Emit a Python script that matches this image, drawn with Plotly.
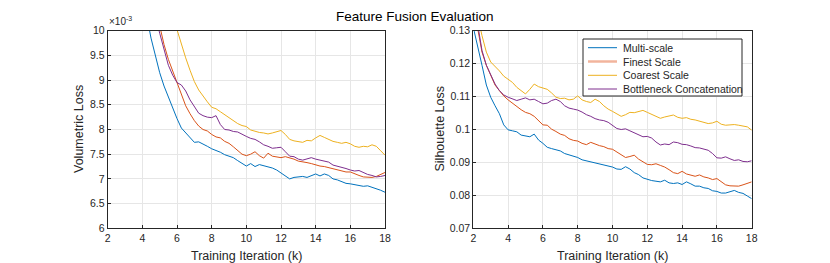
import plotly.graph_objects as go

# Training iteration (k), step 0.25 from 2 to 18
iters = [2 + 0.25 * i for i in range(65)]

# Volumetric loss (x 10^-3)
vol_multi = [14.0, 13.5, 13.0, 12.6, 12.2, 11.8, 11.4, 11.0, 10.65, 10.3, 9.85, 9.52, 9.15, 8.88, 8.65, 8.42,
             8.22, 8.03, 7.93, 7.82, 7.74, 7.75, 7.71, 7.66, 7.61, 7.58, 7.54, 7.49, 7.46, 7.43, 7.37, 7.31,
             7.26, 7.31, 7.25, 7.29, 7.27, 7.24, 7.22, 7.18, 7.12, 7.06, 7.00, 7.03, 7.04, 7.05, 7.03, 7.06,
             7.10, 7.06, 7.10, 7.07, 7.00, 6.98, 6.95, 6.91, 6.90, 6.88, 6.86, 6.85, 6.86, 6.83, 6.81, 6.77, 6.73]
vol_finest = [16.0, 15.4, 14.8, 14.2, 13.6, 13.1, 12.6, 12.1, 11.6, 11.2, 10.8, 10.4, 10.1, 9.72, 9.42, 9.18,
              8.95, 8.72, 8.48, 8.32, 8.18, 8.07, 8.00, 7.97, 7.90, 7.85, 7.83, 7.76, 7.72, 7.65, 7.58, 7.50,
              7.47, 7.50, 7.55, 7.47, 7.42, 7.52, 7.46, 7.45, 7.43, 7.45, 7.43, 7.40, 7.36, 7.35, 7.33, 7.31,
              7.28, 7.26, 7.25, 7.23, 7.21, 7.19, 7.16, 7.14, 7.14, 7.10, 7.07, 7.04, 7.03, 7.03, 7.05, 7.09, 7.13]
vol_coarse = [18.0, 17.4, 16.8, 16.2, 15.6, 15.0, 14.4, 13.9, 13.4, 12.9, 12.4, 11.9, 11.45, 11.05, 10.7, 10.35,
              10.02, 9.72, 9.45, 9.20, 8.97, 8.80, 8.67, 8.56, 8.45, 8.42, 8.36, 8.30, 8.25, 8.19, 8.12, 8.08,
              8.06, 7.99, 7.96, 7.94, 7.93, 7.91, 7.93, 7.95, 7.98, 7.90, 7.80, 7.77, 7.75, 7.74, 7.78, 7.77,
              7.83, 7.88, 7.84, 7.80, 7.76, 7.74, 7.72, 7.74, 7.71, 7.66, 7.64, 7.66, 7.65, 7.69, 7.66, 7.57, 7.48]
vol_bottle = [15.0, 14.5, 14.0, 13.5, 13.0, 12.6, 12.2, 11.8, 11.4, 11.0, 10.65, 10.3, 9.95, 9.60, 9.30, 9.10,
              8.95, 8.90, 8.78, 8.60, 8.45, 8.33, 8.28, 8.25, 8.24, 8.28, 8.10, 8.00, 7.99, 7.96, 7.95, 7.90,
              7.86, 7.82, 7.80, 7.75, 7.69, 7.66, 7.62, 7.63, 7.64, 7.55, 7.46, 7.45, 7.40, 7.38, 7.40, 7.43,
              7.40, 7.38, 7.36, 7.34, 7.28, 7.26, 7.24, 7.21, 7.18, 7.16, 7.17, 7.13, 7.09, 7.07, 7.04, 7.05, 7.07]

# Silhouette loss
sil_multi = [0.131, 0.1255, 0.1195, 0.1135, 0.1098, 0.1072, 0.1048, 0.1014, 0.0999, 0.0996, 0.0993, 0.0983,
             0.0981, 0.0978, 0.0986, 0.0968, 0.0958, 0.0946, 0.0942, 0.0938, 0.0935, 0.0927, 0.0923, 0.0919,
             0.0915, 0.0908, 0.0905, 0.0901, 0.0899, 0.0895, 0.0893, 0.0889, 0.0886, 0.088, 0.0879, 0.0887,
             0.088, 0.0869, 0.0863, 0.0853, 0.0848, 0.0845, 0.0843, 0.0841, 0.0846, 0.0838, 0.0836, 0.0838,
             0.0833, 0.0841, 0.0835, 0.0828, 0.0828, 0.0823, 0.0821, 0.0814, 0.0812, 0.0807, 0.0807, 0.0811,
             0.0815, 0.0809, 0.0806, 0.0798, 0.079]
sil_finest = [0.138, 0.1305, 0.1235, 0.1195, 0.1162, 0.1135, 0.1118, 0.1102, 0.109, 0.108, 0.1068, 0.106,
              0.1052, 0.1048, 0.104, 0.1028, 0.1014, 0.1013, 0.1001, 0.0994, 0.0986, 0.0982, 0.0972, 0.0967,
              0.0965, 0.0958, 0.0954, 0.0961, 0.0955, 0.0951, 0.0948, 0.0942, 0.094, 0.0932, 0.0922, 0.0915,
              0.0918, 0.0922, 0.091, 0.0903, 0.0894, 0.0893, 0.0896, 0.0891, 0.0886, 0.0878, 0.0869, 0.0866,
              0.0873, 0.0865, 0.0861, 0.0858, 0.0862, 0.0856, 0.0853, 0.0848, 0.0851, 0.0842, 0.0832, 0.0829,
              0.0829, 0.0828, 0.0832, 0.0836, 0.0841]
sil_coarse = [0.142, 0.1345, 0.1285, 0.1235, 0.1205, 0.1192, 0.1178, 0.1162, 0.1152, 0.1143, 0.1128, 0.1118,
              0.1108, 0.1122, 0.1138, 0.113, 0.1126, 0.1122, 0.1111, 0.1098, 0.1094, 0.1095, 0.109, 0.1092,
              0.1102, 0.109, 0.1085, 0.1082, 0.1092, 0.1085, 0.1072, 0.1062, 0.1055, 0.1048, 0.104, 0.1045,
              0.1052, 0.1051, 0.1055, 0.1058, 0.1052, 0.1046, 0.1038, 0.1034, 0.1038, 0.1041, 0.1044, 0.1037,
              0.1034, 0.1036, 0.1031, 0.1029, 0.1025, 0.102, 0.1018, 0.102, 0.1025, 0.1016, 0.1013, 0.1014,
              0.1015, 0.1013, 0.1011, 0.1008, 0.0998]
sil_bottle = [0.140, 0.132, 0.124, 0.1195, 0.1165, 0.1138, 0.1118, 0.1105, 0.1098, 0.1092, 0.1088, 0.1092,
              0.1096, 0.109, 0.1092, 0.1085, 0.1078, 0.108, 0.1088, 0.1092, 0.1085, 0.1072, 0.1065, 0.1062,
              0.1059, 0.1053, 0.1045, 0.104, 0.1033, 0.1029, 0.1027, 0.1022, 0.1012, 0.1003, 0.1, 0.1002,
              0.0996, 0.099, 0.0982, 0.0978, 0.0979, 0.0974, 0.0962, 0.0953, 0.0956, 0.0954, 0.0962, 0.096,
              0.0955, 0.0954, 0.095, 0.0945, 0.0944, 0.094, 0.0937, 0.0927, 0.0914, 0.0913, 0.0917, 0.0911,
              0.0906, 0.0908, 0.0903, 0.0902, 0.0905]

names = ["Multi-scale", "Finest Scale", "Coarest Scale", "Bottleneck Concatenation"]
colors = ["#0072BD", "#D95319", "#EDB120", "#7E2F8E"]

x_ticks = [2, 4, 6, 8, 10, 12, 14, 16, 18]
vol_ticks = [6, 6.5, 7, 7.5, 8, 8.5, 9, 9.5, 10]
vol_ticktext = ["6", "6.5", "7", "7.5", "8", "8.5", "9", "9.5", "10"]
sil_ticks = [0.07, 0.08, 0.09, 0.10, 0.11, 0.12, 0.13]
sil_ticktext = ["0.07", "0.08", "0.09", "0.1", "0.11", "0.12", "0.13"]

fig = go.Figure()
for vals, nm, c in zip([vol_multi, vol_finest, vol_coarse, vol_bottle], names, colors):
    fig.add_trace(go.Scatter(x=iters, y=vals, mode="lines", name=nm, showlegend=False,
                             line=dict(color=c, width=1), xaxis="x", yaxis="y"))
for vals, nm, c in zip([sil_multi, sil_finest, sil_coarse, sil_bottle], names, colors):
    fig.add_trace(go.Scatter(x=iters, y=vals, mode="lines", name=nm, showlegend=False,
                             line=dict(color=c, width=1), xaxis="x2", yaxis="y2"))

# The page body has an 8px margin, so the figure starts at (8, 8) in the window.
OFF = 8
W, H = 830 - OFF, 263 - OFF
def px(xp):
    return (xp - OFF) / W
def py(yp):
    return 1 - (yp - OFF) / H
ydom = [py(228.3), py(30.7)]

axcol = "#262626"
tickfont = dict(size=10.5, color=axcol)
common = dict(showline=True, linecolor=axcol, linewidth=1, mirror=True, ticks="inside",
              ticklen=3, tickcolor=axcol, showgrid=True, gridcolor="#E6E6E6", gridwidth=1,
              zeroline=False, tickfont=tickfont, fixedrange=True, automargin=False)

annotations = [
    dict(text="Feature Fusion Evaluation", x=px(415), y=py(16), xanchor="center", yanchor="middle",
         font=dict(size=13.5, color="black")),
    dict(text="\u00d710<sup>-3</sup>", x=px(107), y=py(29), xanchor="left", yanchor="bottom",
         font=dict(size=10, color=axcol)),
    dict(text="Training Iteration (k)", x=px(246.3), y=py(256), xanchor="center", yanchor="middle",
         font=dict(size=12.5, color=axcol)),
    dict(text="Training Iteration (k)", x=px(612.5), y=py(256), xanchor="center", yanchor="middle",
         font=dict(size=12.5, color=axcol)),
    dict(text="Volumetric Loss", x=px(78.5), y=py(129.5), xanchor="center", yanchor="middle",
         textangle=-90, font=dict(size=12.5, color=axcol)),
    dict(text="Silhouette Loss", x=px(439), y=py(129.5), xanchor="center", yanchor="middle",
         textangle=-90, font=dict(size=12.5, color=axcol)),
]

# Legend box (drawn in paper space, matching the MATLAB-style compact legend)
leg_left, leg_right, leg_top, leg_bottom = 583, 742, 39, 96
row_y = [47.7, 61.5, 75.3, 89.0]
leg_line_colors = ["#0072BD", "#F2B49C", "#EDB120", "#7E2F8E"]
leg_line_widths = [1, 2.5, 1, 1]
shapes = [dict(type="rect", xref="paper", yref="paper", x0=px(leg_left), x1=px(leg_right),
               y0=py(leg_bottom), y1=py(leg_top), line=dict(color=axcol, width=1), fillcolor="white",
               layer="above")]
for nm, c, lw, ry in zip(names, leg_line_colors, leg_line_widths, row_y):
    shapes.append(dict(type="line", xref="paper", yref="paper", x0=px(588), x1=px(617),
                       y0=py(ry), y1=py(ry), line=dict(color=c, width=lw), layer="above"))
    annotations.append(dict(text=nm, x=px(620.5), y=py(ry), xanchor="left", yanchor="middle",
                            font=dict(size=10.5, color=axcol)))

for a in annotations:
    a.update(xref="paper", yref="paper", showarrow=False)

fig.update_layout(
    width=W, height=H, margin=dict(l=0, r=0, t=0, b=0, autoexpand=False),
    paper_bgcolor="white", plot_bgcolor="white", showlegend=False,
    font=dict(family="Liberation Sans, Arial, sans-serif", color=axcol),
    xaxis=dict(domain=[px(107.7), px(385)], range=[2, 18], tickvals=x_ticks, anchor="y", **common),
    yaxis=dict(domain=ydom, range=[6, 10], tickvals=vol_ticks, ticktext=vol_ticktext, anchor="x", **common),
    xaxis2=dict(domain=[px(473.3), px(751.7)], range=[2, 18], tickvals=x_ticks, anchor="y2", **common),
    yaxis2=dict(domain=ydom, range=[0.07, 0.13], tickvals=sil_ticks, ticktext=sil_ticktext,
                anchor="x2", **common),
    annotations=annotations,
    shapes=shapes,
)

fig.write_html("out.html")
